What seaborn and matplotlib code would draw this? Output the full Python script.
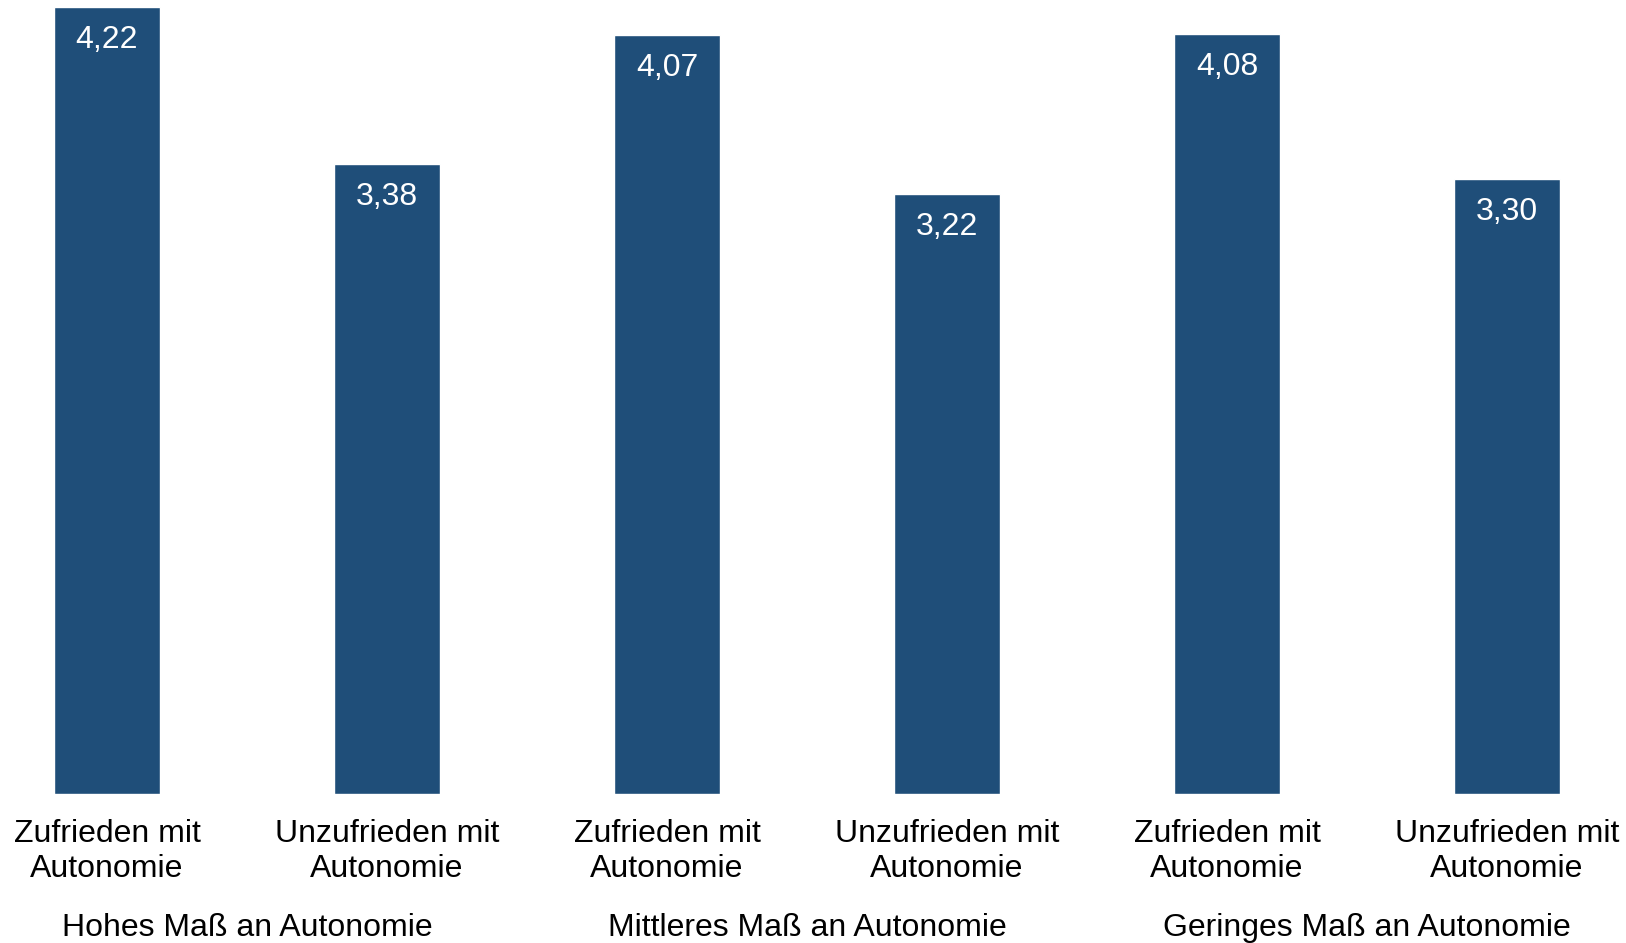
import pandas as pd
import matplotlib
matplotlib.use("Agg")
import matplotlib.pyplot as plt
import matplotlib.transforms as mtransforms
import seaborn as sns

# values
categories = ["Zufrieden mit\nAutonomie", "Unzufrieden mit\nAutonomie"] * 3
groups = ["Hohes Maß an Autonomie", "Mittleres Maß an Autonomie", "Geringes Maß an Autonomie"]
values = [4.22, 3.38, 4.07, 3.22, 4.08, 3.30]
value_labels = ["4,22", "3,38", "4,07", "3,22", "4,08", "3,30"]

BAR_COLOR = "#1F4E79"


def main():
    sns.set_theme(style="white")
    plt.rcParams["font.family"] = ["Liberation Sans", "DejaVu Sans"]

    df = pd.DataFrame({"pos": range(len(values)), "value": values})

    fig = plt.figure(figsize=(16.26, 9.43), dpi=100)
    ax = fig.add_axes([0, 0.158, 1, 0.842])

    sns.barplot(data=df, x="pos", y="value", native_scale=True, color=BAR_COLOR,
                saturation=1, width=0.378, ax=ax)

    ax.set_xlim(-0.382, 5.425)
    ax.set_ylim(0, 4.26)
    ax.set_xlabel("")
    ax.set_ylabel("")
    ax.set_yticks([])
    sns.despine(ax=ax, left=True, bottom=True)

    ax.set_xticks(df["pos"])
    ax.set_xticklabels(categories, fontsize=23, linespacing=1.22, color="black")
    ax.tick_params(axis="x", length=0, pad=18)

    # value labels inside the top of each bar
    for p, v, lab in zip(df["pos"], values, value_labels):
        ax.annotate(lab, (p, v), xytext=(0, -33), textcoords="offset pixels",
                    ha="center", va="center", color="white", fontsize=23)

    # group labels under each pair of bars
    trans = mtransforms.blended_transform_factory(ax.transData, fig.transFigure)
    for i, g in enumerate(groups):
        ax.text(2 * i + 0.5, 0.016, g, transform=trans, ha="center", va="center",
                fontsize=23, color="black")

    fig.savefig("out.png", dpi=100, facecolor="white")


if __name__ == "__main__":
    main()
